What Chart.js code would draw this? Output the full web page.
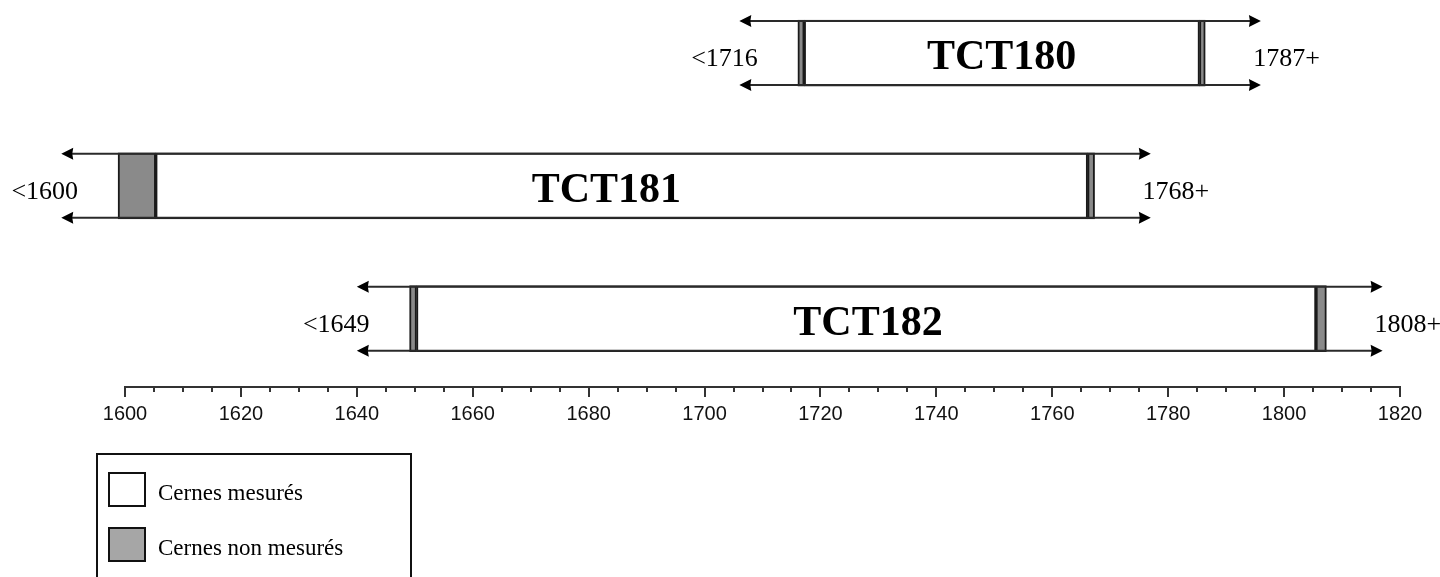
<!DOCTYPE html>
<html>
<head>
<meta charset="utf-8">
<script src="https://cdn.jsdelivr.net/npm/chart.js@4.4.1/dist/chart.umd.min.js"></script>
<style>
  html, body { margin: 0; padding: 0; background: #fff; }
  #wrap { position: relative; width: 1440px; height: 577px; overflow: hidden; }
  #legend-box { position: absolute; left: 96px; top: 453px; width: 312px; height: 160px; border: 2px solid #111; }
  .swatch { position: absolute; left: 108px; width: 38px; height: 35px; border: 2px solid #111; box-sizing: border-box; }
  .legend-text { position: absolute; left: 158px; font-family: "Liberation Serif", "Times New Roman", serif; font-size: 23px; color: #000; line-height: 1; }
</style>
</head>
<body>
<div id="wrap">
  <canvas id="myChart" width="1440" height="577"></canvas>
  <div id="legend-box"></div>
  <div class="swatch" style="top:472px;background:#fff"></div>
  <div class="legend-text" style="top:481px">Cernes mesurés</div>
  <div class="swatch" style="top:527px;background:#a6a6a6"></div>
  <div class="legend-text" style="top:536px">Cernes non mesurés</div>
</div>
<script>
// DATA
const samples = ["TCT180", "TCT181", "TCT182"];
const rows = [0, 1, 2];
const measured = [[1717.2, 1785.4], [1605.3, 1766.1], [1650.3, 1805.5]];
const unmeasuredStart = [[1716.1, 1717.2], [1598.8, 1605.3], [1649.1, 1650.3]];
const unmeasuredEnd = [[1785.4, 1786.4], [1766.1, 1767.3], [1805.5, 1807.3]];
const arrowFrom = [1706, 1589, 1640];
const arrowTo = [1796, 1777, 1817];
const firstLabels = ["<1716", "<1600", "<1649"];
const lastLabels = ["1787+", "1768+", "1808+"];
const yearMin = 1600;
const yearMax = 1820;

function toPoints(ranges) {
  return ranges.map((r, i) => ({ x: r, y: rows[i] }));
}

// arrows, minor ticks and texts
const decorPlugin = {
  id: "decor",
  afterDatasetsDraw(chart) {
    const ctx = chart.ctx;
    const xs = chart.scales.x;
    const ys = chart.scales.y;
    const half = 32;
    ctx.save();
    ctx.lineWidth = 2;
    rows.forEach((r, i) => {
      const yc = ys.getPixelForValue(r);
      const x1 = xs.getPixelForValue(arrowFrom[i]);
      const x2 = xs.getPixelForValue(arrowTo[i]);
      ctx.strokeStyle = "#2a2a2a";
      ctx.fillStyle = "#000";
      [yc - half, yc + half].forEach((y) => {
        ctx.beginPath();
        ctx.moveTo(x1 + 6, y);
        ctx.lineTo(x2 - 6, y);
        ctx.stroke();
        // left head
        ctx.beginPath();
        ctx.moveTo(x1, y);
        ctx.lineTo(x1 + 12, y - 6);
        ctx.lineTo(x1 + 11, y);
        ctx.lineTo(x1 + 12, y + 6);
        ctx.closePath();
        ctx.fill();
        // right head
        ctx.beginPath();
        ctx.moveTo(x2, y);
        ctx.lineTo(x2 - 12, y - 6);
        ctx.lineTo(x2 - 11, y);
        ctx.lineTo(x2 - 12, y + 6);
        ctx.closePath();
        ctx.fill();
      });

      const xStart = xs.getPixelForValue(unmeasuredStart[i][0]);
      const xEnd = xs.getPixelForValue(unmeasuredEnd[i][1]);
      ctx.textBaseline = "alphabetic";
      ctx.font = '26px "Liberation Serif", "Times New Roman", serif';
      ctx.textAlign = "right";
      ctx.fillText(firstLabels[i], xStart - 40, yc + 13);
      ctx.textAlign = "left";
      ctx.fillText(lastLabels[i], xEnd + 48, yc + 13);
      ctx.font = 'bold 42px "Liberation Serif", "Times New Roman", serif';
      ctx.textAlign = "center";
      ctx.fillText(samples[i], (xStart + xEnd) / 2, yc + 16);
    });

    // minor ticks every 5 years
    const yAxis = xs.top;
    ctx.strokeStyle = "#333";
    ctx.lineWidth = 2;
    for (let v = yearMin; v <= yearMax; v += 5) {
      if (v % 20 === 0) continue;
      const x = Math.round(xs.getPixelForValue(v));
      ctx.beginPath();
      ctx.moveTo(x, yAxis);
      ctx.lineTo(x, yAxis + 5);
      ctx.stroke();
    }
    ctx.restore();
  },
};

const barStyle = {
  borderColor: "#1a1a1a",
  borderWidth: 2,
  borderSkipped: false,
  barThickness: 66,
  grouped: false,
  clip: false,
};

new Chart(document.getElementById("myChart"), {
  type: "bar",
  data: {
    datasets: [
      Object.assign({ label: "Cernes non mesurés", data: toPoints(unmeasuredStart), backgroundColor: "#8a8a8a" }, barStyle),
      Object.assign({ label: "Cernes non mesurés ", data: toPoints(unmeasuredEnd), backgroundColor: "#8a8a8a" }, barStyle),
      Object.assign({ label: "Cernes mesurés", data: toPoints(measured), backgroundColor: "#ffffff" }, barStyle),
    ],
  },
  options: {
    indexAxis: "y",
    responsive: false,
    animation: false,
    devicePixelRatio: 1,
    layout: { padding: { left: 125, right: 40, top: 0, bottom: 150 } },
    plugins: { legend: { display: false }, tooltip: { enabled: false } },
    scales: {
      x: {
        type: "linear",
        position: "bottom",
        min: yearMin,
        max: yearMax,
        afterFit: (s) => { s.height = 40; },
        afterBuildTicks: (s) => {
          const t = [];
          for (let v = yearMin; v <= yearMax; v += 20) t.push({ value: v });
          s.ticks = t;
        },
        ticks: {
          autoSkip: false,
          maxRotation: 0,
          padding: 5,
          color: "#111",
          font: { family: '"Liberation Sans", Arial, sans-serif', size: 20 },
          callback: (v) => String(v),
        },
        grid: { drawOnChartArea: false, tickLength: 10, color: "#333", lineWidth: 2 },
        border: { color: "#333", width: 2 },
      },
      y: {
        type: "linear",
        reverse: true,
        offset: false,
        min: -0.4,
        max: 2.515,
        display: false,
      },
    },
  },
  plugins: [decorPlugin],
});
</script>
</body>
</html>
